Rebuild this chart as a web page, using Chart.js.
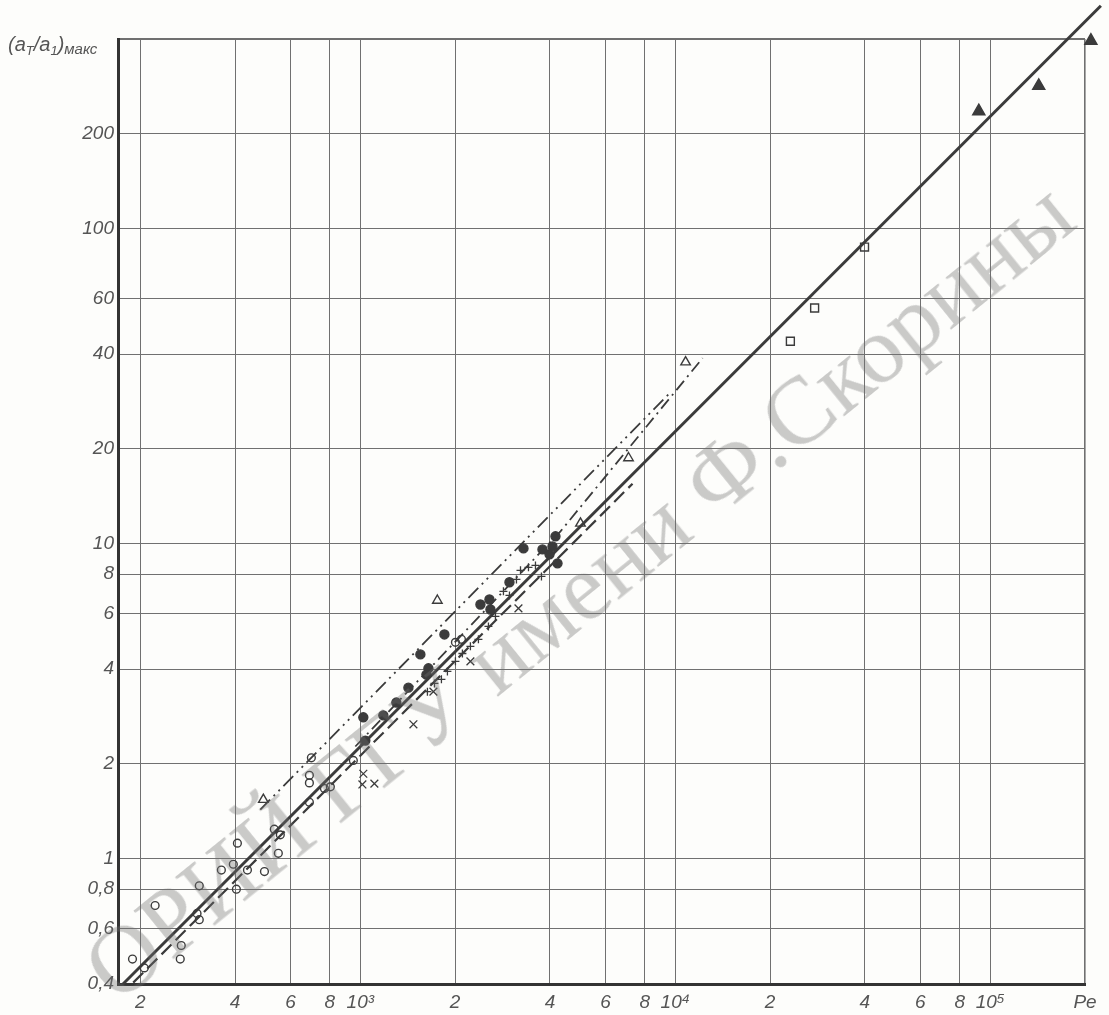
<!DOCTYPE html>
<html>
<head>
<meta charset="utf-8">
<script src="https://cdn.jsdelivr.net/npm/chart.js@4.4.1/dist/chart.umd.min.js"></script>
<style>
    html, body { margin: 0; padding: 0; background: #fdfdfb; }
    #wrap { position: relative; width: 1109px; height: 1015px; overflow: hidden; }
    #wm {
        position: absolute; left: 578px; top: 590px;
        transform: translate(-50%, -50%) rotate(-39deg);
        font-family: "Liberation Serif", "DejaVu Serif", serif;
        font-size: 96px; color: rgba(110, 110, 110, 0.36);
        white-space: nowrap; pointer-events: none;
    }
</style>
</head>
<body>
<div id="wrap">
    <canvas id="pe-chart" width="1109" height="1015"></canvas>
    <div id="wm">ОРИЙ ГГУ имени Ф.Скорины</div>
</div>
<script>
"use strict";

// Axis ticks (log scales, square decades)
const xTickValues = [200, 400, 600, 800, 1000, 2000, 4000, 6000, 8000, 10000, 20000, 40000, 60000, 80000, 100000, 200000];
const xTickLabels = ['2', '4', '6', '8', '10³', '2', '4', '6', '8', '10⁴', '2', '4', '6', '8', '10⁵', 'Pe'];
const yTickValues = [0.4, 0.6, 0.8, 1, 2, 4, 6, 8, 10, 20, 40, 60, 100, 200, 400];
const yTickLabels = ['0,4', '0,6', '0,8', '1', '2', '4', '6', '8', '10', '20', '40', '60', '100', '200', ''];

// Measured points, Pe values
const openCircleX = [189, 206, 223, 270, 268, 303, 308, 308, 362, 395, 407, 404, 438, 496, 533, 557, 549, 699, 689, 689, 689, 769, 803, 950, 2004, 2094];
const openCircleY = [0.48, 0.45, 0.71, 0.53, 0.48, 0.67, 0.64, 0.82, 0.92, 0.96, 1.12, 0.80, 0.92, 0.91, 1.24, 1.19, 1.04, 2.09, 1.84, 1.74, 1.51, 1.67, 1.69, 2.05, 4.86, 4.97];

const filledCircleX = [1037, 1022, 1183, 1301, 1421, 1551, 1645, 1621, 1849, 2406, 2570, 2589, 2975, 3296, 3787, 3987, 4165, 4227, 4075];
const filledCircleY = [2.37, 2.81, 2.85, 3.13, 3.49, 4.45, 4.02, 3.84, 5.15, 6.41, 6.65, 6.18, 7.54, 9.66, 9.59, 9.25, 10.55, 8.66, 9.8];

const crossX = [1022, 1015, 1108, 1474, 1706, 2236, 3177];
const crossY = [1.86, 1.72, 1.73, 2.67, 3.39, 4.23, 6.23];

const plusX = [1633, 1719, 1809, 1890, 2004, 2109, 2236, 2371, 2551, 2685, 2847, 2975, 3131, 3225, 3419, 3598, 3759];
const plusY = [3.39, 3.6, 3.71, 3.93, 4.23, 4.48, 4.72, 4.97, 5.46, 5.88, 7.06, 6.85, 7.7, 8.23, 8.41, 8.53, 7.87];

const openTriangleX = [492, 1756, 5000, 7104, 10783];
const openTriangleY = [1.54, 6.6, 11.6, 18.7, 37.7];

const squareX = [23200, 27700, 39900];
const squareY = [43.9, 56, 87.4];

const filledTriangleX = [92000, 142600, 208800];
const filledTriangleY = [236, 284, 395];

// Fitted lines
const solidLineX = [175, 224600];
const solidLineY = [0.397, 510];
const dashLineX = [190, 7316];
const dashLineY = [0.404, 15.5];
const dashDotDotX = [481, 9522];
const dashDotDotY = [1.43, 29.8];
const dashDotX = [964, 4320, 12210];
const dashDotY = [2.27, 10.94, 38.8];

function pairs(xs, ys) {
    let out = [];
    for (let i = 0; i < xs.length; i++) {
        out.push({x: xs[i], y: ys[i]});
    }
    return out;
}

const ink = '#3b3b3b';
const tickFont = {family: '"Liberation Sans", Arial, sans-serif', size: 19, style: 'italic'};

function pointSet(xs, ys, style, radius, filled, width) {
    return {
        type: 'scatter',
        data: pairs(xs, ys),
        pointStyle: style,
        pointRadius: radius,
        pointBorderWidth: width || 1.4,
        borderColor: ink,
        backgroundColor: filled ? ink : 'rgba(253,253,251,0)',
        clip: false
    };
}

function lineSet(xs, ys, dash, width) {
    return {
        type: 'line',
        data: pairs(xs, ys),
        borderColor: ink,
        borderWidth: width,
        borderDash: dash,
        pointRadius: 0,
        fill: false,
        clip: false
    };
}

// Title on the y axis, with subscripts
const titlePlugin = {
    id: 'yTitle',
    afterDraw(chart) {
        let ctx = chart.ctx;
        ctx.save();
        ctx.fillStyle = '#555';
        ctx.textBaseline = 'alphabetic';
        let x = 8;
        let base = 51;
        let parts = [
            ['(a', 20, 0], ['T', 13, 4], ['/a', 20, 0], ['1', 13, 4], [')', 20, 0], ['макс', 15, 3]
        ];
        for (let p of parts) {
            ctx.font = 'italic ' + p[1] + 'px "Liberation Sans", Arial, sans-serif';
            ctx.fillText(p[0], x, base + p[2]);
            x += ctx.measureText(p[0]).width;
        }
        ctx.restore();
    }
};

let peChart = new Chart(document.getElementById('pe-chart').getContext('2d'), {
    data: {
        datasets: [
            pointSet(openCircleX, openCircleY, 'circle', 3.9, false),
            pointSet(filledCircleX, filledCircleY, 'circle', 4.5, true),
            pointSet(crossX, crossY, 'crossRot', 5.5, false, 1.3),
            pointSet(plusX, plusY, 'cross', 4, false, 1.3),
            pointSet(openTriangleX, openTriangleY, 'triangle', 5.5, false),
            pointSet(squareX, squareY, 'rect', 5.6, false),
            pointSet(filledTriangleX, filledTriangleY, 'triangle', 7, true),
            lineSet(solidLineX, solidLineY, [], 3),
            lineSet(dashLineX, dashLineY, [14, 6], 2.2),
            lineSet(dashDotDotX, dashDotDotY, [14, 5, 2, 5, 2, 5], 1.8),
            lineSet(dashDotX, dashDotY, [12, 5, 2, 5], 1.8)
        ]
    },
    options: {
        responsive: false,
        animation: false,
        layout: {padding: {left: 0, right: 24, top: 39, bottom: 0}},
        plugins: {legend: {display: false}, tooltip: {enabled: false}},
        scales: {
            x: {
                type: 'logarithmic',
                min: 170,
                max: 200000,
                afterBuildTicks: (scale) => { scale.ticks = xTickValues.map(v => ({value: v})); },
                afterFit: (scale) => { scale.height = 31; },
                ticks: {
                    autoSkip: false,
                    maxRotation: 0,
                    padding: 7,
                    color: '#555',
                    font: tickFont,
                    callback: (value, index) => xTickLabels[index]
                },
                grid: {
                    drawTicks: false,
                    color: '#707070',
                    lineWidth: (c) => c.index === xTickValues.length - 1 ? 1.6 : 1
                },
                border: {display: true, color: '#333', width: 3}
            },
            y: {
                type: 'logarithmic',
                min: 0.4,
                max: 400,
                afterBuildTicks: (scale) => { scale.ticks = yTickValues.map(v => ({value: v})); },
                afterFit: (scale) => { scale.width = 118; },
                ticks: {
                    autoSkip: false,
                    padding: 4,
                    color: '#555',
                    font: tickFont,
                    callback: (value, index) => yTickLabels[index]
                },
                grid: {
                    drawTicks: false,
                    color: '#707070',
                    lineWidth: (c) => c.index === yTickValues.length - 1 ? 2 : 1
                },
                border: {display: true, color: '#333', width: 3}
            }
        }
    },
    plugins: [titlePlugin]
});
</script>
</body>
</html>
